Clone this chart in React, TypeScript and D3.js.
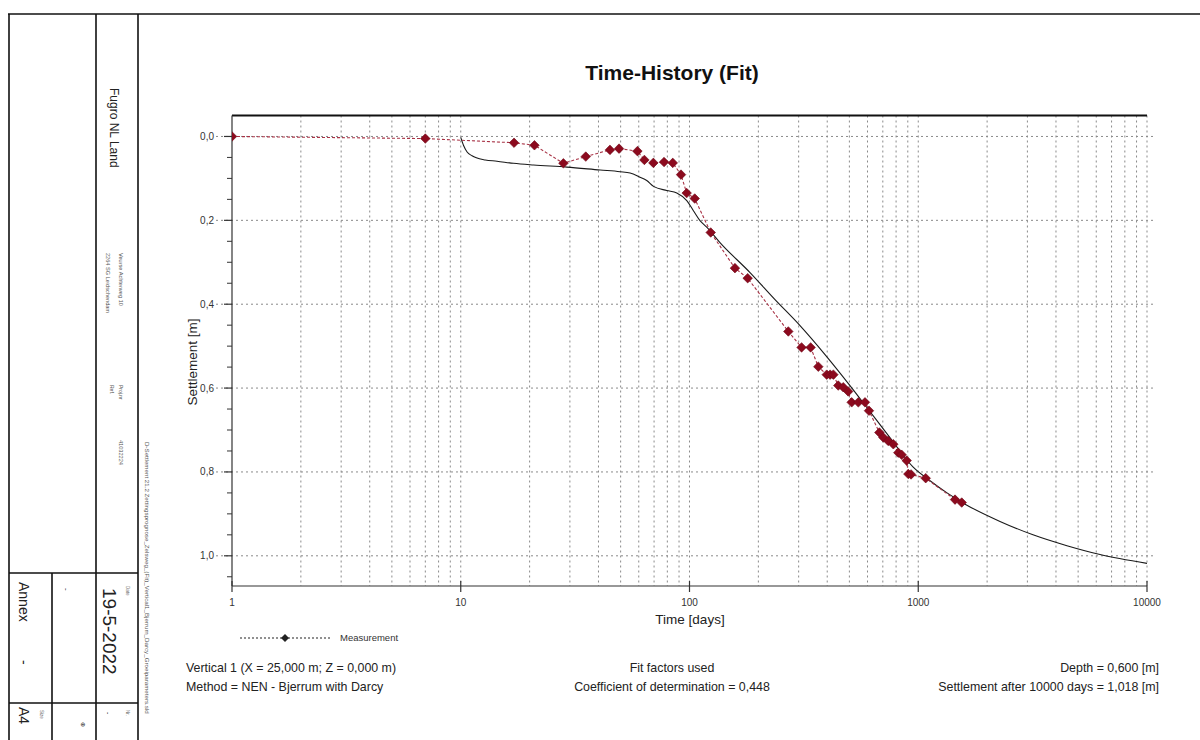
import React from "react";
import * as d3 from "d3";

// Measured settlements: time [days] and settlement [m]
const measTime = [1, 7, 17.1, 21, 28.1, 35.2, 44.9, 49.2, 59.2, 63.5, 69.5, 77.4, 84.5, 91.8, 97.2, 105.4, 123.8, 158, 179.6, 270.4, 309, 338.5, 365.7, 398, 412, 425.5, 447, 470, 494, 511.6, 547, 585, 609, 676, 704, 739, 778, 818, 846, 890, 905, 930, 1078, 1448, 1549];
const measSettl = [0.0, 0.005, 0.015, 0.021, 0.064, 0.048, 0.032, 0.029, 0.035, 0.056, 0.063, 0.061, 0.063, 0.091, 0.135, 0.148, 0.229, 0.314, 0.338, 0.465, 0.503, 0.503, 0.549, 0.568, 0.568, 0.568, 0.594, 0.598, 0.608, 0.634, 0.634, 0.634, 0.654, 0.706, 0.718, 0.726, 0.734, 0.754, 0.759, 0.773, 0.805, 0.806, 0.815, 0.866, 0.873];

// Fitted settlement curve (Bjerrum with Darcy)
const fitTime = [10, 10.3, 10.66, 11.2, 11.7, 12.8, 14.4, 17, 20.8, 29.1, 40.7, 49.7, 55, 60.7, 65, 69.6, 79.6, 88, 97.3, 104, 111.1, 118.9, 135.9, 183.9, 236.5, 304.2, 391.2, 503, 615, 752, 948, 1126, 1336, 1617, 2277, 3174, 4467, 6230, 10000];
const fitSettl = [0.002, 0.022, 0.037, 0.046, 0.051, 0.056, 0.059, 0.064, 0.068, 0.073, 0.080, 0.084, 0.087, 0.097, 0.105, 0.119, 0.129, 0.135, 0.153, 0.177, 0.2005, 0.216, 0.253, 0.3246, 0.389, 0.451, 0.520, 0.594, 0.656, 0.718, 0.788, 0.821, 0.850, 0.878, 0.918, 0.950, 0.976, 0.997, 1.018];

const xTickValues = [1, 10, 100, 1000, 10000];
const xTickLabels = ["1", "10", "100", "1000", "10000"];
const yTickValues = [0, 0.2, 0.4, 0.6, 0.8, 1.0];
const yTickLabels = ["0,0", "0,2", "0,4", "0,6", "0,8", "1,0"];
const yMinorValues = [0.05, 0.1, 0.15, 0.25, 0.3, 0.35, 0.45, 0.5, 0.55, 0.65, 0.7, 0.75, 0.85, 0.9, 0.95, 1.05];

const infoLeft = ["Vertical 1 (X = 25,000 m; Z = 0,000 m)", "Method = NEN - Bjerrum with Darcy"];
const infoCenter = ["Fit factors used", "Coefficient of determination = 0,448"];
const infoRight = ["Depth = 0,600 [m]", "Settlement after 10000 days = 1,018 [m]"];

const FONT = "'Liberation Sans', Arial, sans-serif";

export default function App() {
  const left = 232, right = 1147, top = 115.5, bottom = 586;
  const x = d3.scaleLog().domain([1, 10000]).range([left, right]);
  const y = d3.scaleLinear().domain([-0.05, 1.072]).range([top, bottom]);

  // vertical grid at every 2..10 multiple of each decade
  const vGrid: number[] = [];
  for (let e = 0; e < 4; e++) {
    for (let m = 2; m <= 10; m++) vGrid.push(m * Math.pow(10, e));
  }

  const measPts = measTime.map((t, i) => [x(t), y(measSettl[i])] as [number, number]);
  const fitPts = fitTime.map((t, i) => [x(t), y(fitSettl[i])] as [number, number]);
  const line = d3.line().curve(d3.curveLinear);
  const fitLine = d3.line().curve(d3.curveMonotoneX);
  const diamond = d3.symbol().type(d3.symbolDiamond2).size(58)();
  const legendDiamond = d3.symbol().type(d3.symbolDiamond2).size(40)();

  const rot = (tx: number, ty: number, a = 90) => `translate(${tx},${ty}) rotate(${a})`;

  return (
    <svg width={1200} height={740} style={{ position: "absolute", left: 0, top: 0, background: "#fff" }} fontFamily={FONT}>
      <defs>
        <clipPath id="plotClip">
          <rect x={left} y={top} width={right - left + 6} height={bottom - top} />
        </clipPath>
      </defs>

      {/* page frame and title block */}
      <g stroke="#111" strokeWidth={1.6} fill="none">
        <line x1={8} y1={14} x2={1200} y2={14} />
        <line x1={9} y1={14} x2={9} y2={740} />
        <line x1={96} y1={14} x2={96} y2={740} />
        <line x1={138} y1={14} x2={138} y2={740} />
        <line x1={9} y1={573} x2={138} y2={573} />
        <line x1={9} y1={703} x2={138} y2={703} />
        <line x1={52} y1={573} x2={52} y2={740} />
      </g>
      <g fill="#222">
        <text transform={rot(110, 88)} fontSize={12}>Fugro NL Land</text>
        <text transform={rot(119, 253)} fontSize={5.6} fill="#555">Veurse Achterweg 10</text>
        <text transform={rot(106, 253)} fontSize={5.6} fill="#555">2264 SG Leidschendam</text>
        <text transform={rot(119, 385)} fontSize={5} fill="#555">Proj.nr</text>
        <text transform={rot(110, 385)} fontSize={5} fill="#555">Ref.</text>
        <text transform={rot(119, 440)} fontSize={5.6} fill="#555">41032224</text>
        <text transform={rot(145, 442)} fontSize={6.2} fill="#555">D-Settlement 21.2  Zettingsprognose_Zelsweg_(Fit)_Vertical1_Bjerrum_Darcy_Groeiparameters.sld</text>
        <text transform={rot(126, 586)} fontSize={4.5} fill="#666">Date</text>
        <text transform={rot(103, 588)} fontSize={19}>19-5-2022</text>
        <text transform={rot(19, 582)} fontSize={14}>Annex</text>
        <text transform={rot(19, 660)} fontSize={14}>-</text>
        <text transform={rot(64, 588)} fontSize={8}>-</text>
        <text transform={rot(19, 707)} fontSize={14}>A4</text>
        <text transform={rot(40, 710)} fontSize={4.5} fill="#666">Size</text>
        <text transform={rot(126, 710)} fontSize={4.5} fill="#666">Nr.</text>
        <text transform={rot(106, 712)} fontSize={7}>-</text>
        <text transform={rot(81, 722)} fontSize={6}>⊕</text>
      </g>

      {/* title */}
      <text x={672} y={80} textAnchor="middle" fontSize={21} fontWeight="bold" fill="#111">Time-History (Fit)</text>

      {/* grid */}
      <g stroke="#8a8a8a" strokeWidth={1} strokeDasharray="2,3" fill="none">
        {vGrid.map((v) => (
          <line key={"v" + v} x1={x(v)} x2={x(v)} y1={top} y2={bottom} />
        ))}
        {yTickValues.map((v) => (
          <line key={"h" + v} x1={left - 16} x2={right + 6} y1={y(v)} y2={y(v)} />
        ))}
      </g>

      {/* axes */}
      <g stroke="#333" fill="none">
        <line x1={left} y1={top} x2={right} y2={top} strokeWidth={1.8} stroke="#111" />
        <line x1={left} y1={top} x2={left} y2={bottom} strokeWidth={1.2} />
        <line x1={left} y1={bottom} x2={right} y2={bottom} strokeWidth={1.2} />
        {xTickValues.map((v) => (
          <line key={"xt" + v} x1={x(v)} x2={x(v)} y1={bottom - 5} y2={bottom + 6} strokeWidth={1.2} />
        ))}
        {yTickValues.map((v) => (
          <line key={"yt" + v} x1={left - 8} x2={left} y1={y(v)} y2={y(v)} strokeWidth={1.2} />
        ))}
        {yMinorValues.map((v) => (
          <line key={"ym" + v} x1={left - 5} x2={left} y1={y(v)} y2={y(v)} strokeWidth={1} />
        ))}
      </g>
      <g fontSize={10} fill="#333">
        {xTickValues.map((v, i) => (
          <text key={"xl" + v} x={x(v)} y={606} textAnchor="middle">{xTickLabels[i]}</text>
        ))}
        {yTickValues.map((v, i) => (
          <text key={"yl" + v} x={214} y={y(v) + 3.5} textAnchor="end">{yTickLabels[i]}</text>
        ))}
      </g>
      <text x={690} y={624} textAnchor="middle" fontSize={13.5} fill="#222">Time [days]</text>
      <text transform={rot(197, 362, -90)} textAnchor="middle" fontSize={13.5} fill="#222">Settlement [m]</text>

      {/* fitted curve */}
      <path d={fitLine(fitPts) || ""} fill="none" stroke="#1a1a1a" strokeWidth={1.1} />

      {/* measurements */}
      <g clipPath="url(#plotClip)">
        <path d={line(measPts) || ""} fill="none" stroke="#a83245" strokeWidth={1.1} strokeDasharray="3,2" />
        {measPts.map((p, i) => (
          <path key={"m" + i} d={diamond || ""} transform={`translate(${p[0]},${p[1]})`} fill="#8c0a1e" stroke="#6e0716" strokeWidth={0.6} />
        ))}
      </g>

      {/* legend */}
      <g>
        <line x1={240} y1={638} x2={330} y2={638} stroke="#222" strokeWidth={1.1} strokeDasharray="2,2" />
        <path d={legendDiamond || ""} transform="translate(285,638)" fill="#222" />
        <text x={340} y={641} fontSize={9.5} fill="#333">Measurement</text>
      </g>

      {/* info lines */}
      <g fontSize={12.4} fill="#222">
        {infoLeft.map((s, i) => (
          <text key={"il" + i} x={186} y={672 + i * 19}>{s}</text>
        ))}
        {infoCenter.map((s, i) => (
          <text key={"ic" + i} x={672} y={672 + i * 19} textAnchor="middle">{s}</text>
        ))}
        {infoRight.map((s, i) => (
          <text key={"ir" + i} x={1159} y={672 + i * 19} textAnchor="end">{s}</text>
        ))}
      </g>
    </svg>
  );
}
